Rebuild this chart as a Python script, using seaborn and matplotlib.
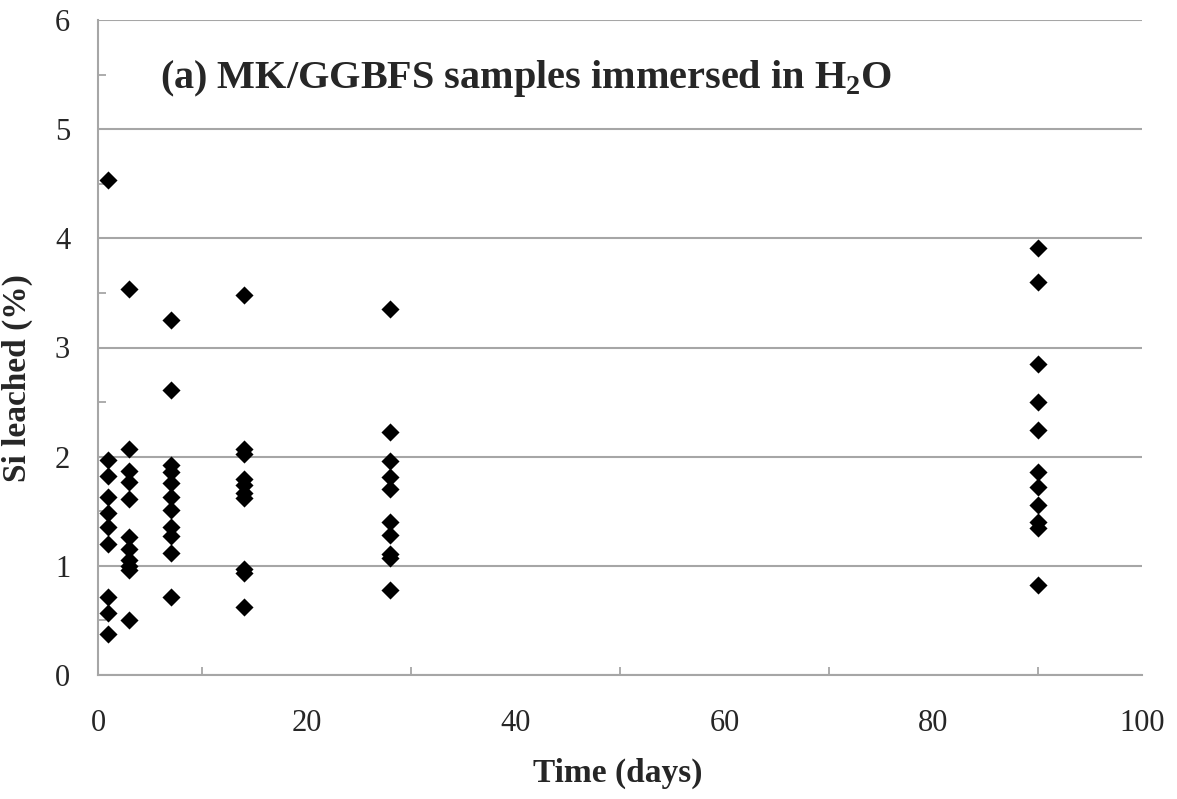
import matplotlib
matplotlib.use("Agg")
import matplotlib.pyplot as plt
import seaborn as sns
import pandas as pd
from matplotlib.ticker import MultipleLocator

# Data
day1 = [4.53, 1.97, 1.82, 1.63, 1.48, 1.36, 1.20, 0.71, 0.57, 0.38]
day3 = [3.54, 2.07, 1.87, 1.77, 1.61, 1.26, 1.15, 1.05, 1.00, 0.96, 0.50]
day7 = [3.25, 2.61, 1.92, 1.86, 1.76, 1.63, 1.51, 1.36, 1.27, 1.12, 0.71]
day14 = [3.48, 2.07, 2.02, 1.80, 1.74, 1.67, 1.62, 0.97, 0.93, 0.62]
day28 = [3.35, 2.23, 1.96, 1.81, 1.70, 1.40, 1.28, 1.11, 1.07, 0.78]
day90 = [3.91, 3.60, 2.85, 2.50, 2.24, 1.86, 1.72, 1.56, 1.40, 1.35, 0.82]
days = [1, 3, 7, 14, 28, 90]
series = [day1, day3, day7, day14, day28, day90]
xticks = [0, 20, 40, 60, 80, 100]
yticks = [0, 1, 2, 3, 4, 5, 6]

rows = []
for d, vals in zip(days, series):
    for v in vals:
        rows.append({"Time": d, "Si": v})
df = pd.DataFrame(rows)

sns.set_style("white")
plt.rcParams['font.family'] = ['Liberation Serif', 'DejaVu Serif']
plt.rcParams['mathtext.fontset'] = 'custom'
plt.rcParams['mathtext.rm'] = 'Liberation Serif'
plt.rcParams['mathtext.bf'] = 'Liberation Serif:bold'

fig = plt.figure(figsize=(11.77, 7.99), dpi=100)
ax = fig.add_axes([98/1177, 1-675/799, 1044/1177, 655/799])

sns.scatterplot(data=df, x="Time", y="Si", marker="D", s=85, color="black",
                edgecolor="black", linewidth=0, ax=ax, zorder=3)

ax.set_xlim(0, 100)
ax.set_ylim(0, 6)
ax.set_xticks(xticks)
ax.set_yticks(yticks)
ax.xaxis.set_minor_locator(MultipleLocator(10))
ax.yaxis.set_minor_locator(MultipleLocator(0.5))

gcol = "#a6a6a6"
ax.yaxis.grid(True, which="major", color=gcol, linewidth=1.5, zorder=0)
ax.xaxis.grid(False)
ax.set_axisbelow(True)
for side in ["top", "right"]:
    ax.spines[side].set_visible(False)
for side in ["left", "bottom"]:
    ax.spines[side].set_color(gcol)
    ax.spines[side].set_linewidth(1.5)

ax.tick_params(axis="y", which="major", direction="out", length=7, width=1.3,
               color=gcol, labelsize=22, pad=13)
ax.tick_params(axis="y", which="minor", direction="in", length=6, width=1.3,
               color=gcol, left=True)
ax.tick_params(axis="x", which="major", direction="inout", length=13, width=1.3,
               color=gcol, labelsize=22, pad=18)
ax.tick_params(axis="x", which="minor", direction="in", length=6, width=1.3,
               color=gcol, bottom=True)

ax.set_xlabel("Time (days)", fontsize=24, fontweight="bold")
ax.set_ylabel("Si leached (%)", fontsize=24, fontweight="bold")
ax.xaxis.set_label_coords(0.498, -0.127)
ax.yaxis.set_label_coords(-0.062, 0.453)

ax.text(0.059, 0.911, r"(a) MK/GGBFS samples immersed in H$_{\mathbf{2}}$O",
        transform=ax.transAxes, fontsize=29, fontweight="bold",
        va="center", ha="left")

fig.savefig("out.png", dpi=100)
